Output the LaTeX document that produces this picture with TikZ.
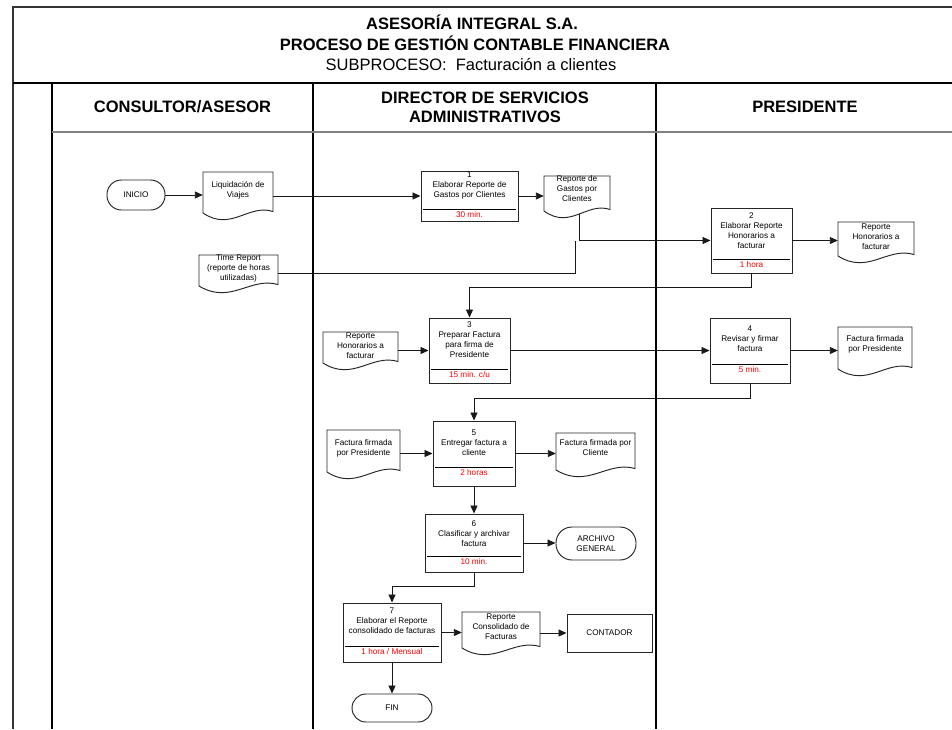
\documentclass[tikz,border=0pt]{standalone}
\usepackage{fontspec}
\setmainfont{Liberation Sans}
\usetikzlibrary{fit,arrows.meta}

\definecolor{timered}{RGB}{255,0,0}
\definecolor{hdrgray}{RGB}{130,130,130}

\tikzset{
  bodyfont/.style={font=\fontsize{8.2}{10}\selectfont},
  frameline/.style={line width=1.5pt, black!80},
  laneline/.style={line width=1.4pt, black},
  hdrline/.style={line width=1.2pt, hdrgray},
  procframe/.style={draw, line width=0.95pt, black!85, inner sep=0pt},
  proctext/.style={bodyfont, align=center, inner sep=0pt},
  timetext/.style={bodyfont, text=timered, inner sep=0pt},
  ruleline/.style={line width=0.8pt, black},
  docline/.style={line width=0.95pt, black!85},
  doctext/.style={bodyfont, align=center, inner sep=0pt},
  term/.style={draw, line width=0.95pt, black!85, inner sep=0pt, rounded corners=14.5pt},
  plainbox/.style={draw, line width=0.95pt, black!85, inner sep=0pt},
  link/.style={line width=0.9pt, black!90},
  arr/.style={link, -{Triangle[length=8pt,width=7pt]}},
  titlefont/.style={font=\fontsize{16.5}{19}\selectfont\bfseries, inner sep=0pt},
  subfont/.style={font=\fontsize{16.5}{19}\selectfont, inner sep=0pt},
  lanefont/.style={font=\fontsize{16.5}{19}\selectfont\bfseries, align=center, inner sep=0pt},
}

% process step: name, x0, y0, x1, y1, rule y, number-line y, text, time
\newcommand\procbox[9]{%
  \node[procframe, fit={(#2,#3)(#4,#5)}] (#1) {};
  \node[proctext, anchor=north] at ({(#2+#4)/2},{#7-3.5}) {#8};
  \draw[ruleline] ({#2+2},#6) -- ({#4-2},#6);
  \node[timetext] at ({(#2+#4)/2},{#6+6}) {#9};
}

% document symbol with wavy lower edge:
% name, x0, y0, x1, flat bottom y, text centre y, text
\newcommand\docshape[7]{%
  \node[inner sep=0pt, fit={(#2,#3)(#4,#5)}] (#1) {};
  \node[doctext] at ({(#2+#4)/2},#6) {#7};
  \draw[docline] (#2,#5) -- (#2,#3) -- (#4,#3) -- (#4,{#5-1.5})
    .. controls ({#2+0.65*(#4-#2)},{#5-9.5}) and ({#2+0.4*(#4-#2)},{#5+19}) .. (#2,#5) -- cycle;
}

\begin{document}
\begin{tikzpicture}[x=1pt, y=-1pt]
\useasboundingbox[fill=white] (0,0) rectangle (952,729);

% ---- frame and swimlanes ----
\draw[frameline] (13,729) -- (13,7) -- (952,7);
\draw[line width=2pt, black] (13,83) -- (952,83);
\draw[laneline] (52,83) -- (52,729);
\draw[laneline] (313,83) -- (313,729);
\draw[laneline] (656,83) -- (656,729);
\draw[hdrline] (52,132) -- (952,132);

% ---- title block ----
\node[titlefont] (title1) at (472,22) {ASESORÍA INTEGRAL S.A.};
\node[titlefont] (title2) at (475,43) {PROCESO DE GESTIÓN CONTABLE FINANCIERA};
\node[subfont] (title3) at (471,65) {SUBPROCESO:\ \ Facturación a clientes};

% ---- lane headings ----
\node[lanefont] (lane1) at (182.5,107) {CONSULTOR/ASESOR};
\node[lanefont] (lane2) at (485,107.5) {DIRECTOR DE SERVICIOS\\ADMINISTRATIVOS};
\node[lanefont] (lane3) at (805,107) {PRESIDENTE};

% ---- terminators ----
\node[term, fit={(107,180)(165,210)}, label={[bodyfont]center:INICIO}] (inicio) {};
\node[term, rounded corners=16pt, fit={(556,527)(636,560)}, label={[bodyfont,align=center]center:ARCHIVO\\GENERAL}] (archivo) {};
\node[term, rounded corners=14pt, fit={(352,694)(432,722)}, label={[bodyfont]center:FIN}] (fin) {};
\node[plainbox, fit={(567,614)(652,652)}, label={[bodyfont]center:CONTADOR}] (contador) {};

% ---- documents ----
\docshape{liq}{203}{172}{273}{213}{190}{Liquidación de\\Viajes}
\docshape{rgc}{544}{176}{610}{211}{189}{Reporte de\\Gastos por\\Clientes}
\docshape{rhfa}{838}{222}{914}{256}{236.5}{Reporte\\Honorarios a\\facturar}
\docshape{tr}{199}{255}{278}{286}{268.5}{Time Report\\(reporte de horas\\utilizadas)}
\docshape{rhfb}{323}{332}{398}{363}{345.5}{Reporte\\Honorarios a\\facturar}
\docshape{ffpa}{838}{327}{912}{369}{344}{Factura firmada\\por Presidente}
\docshape{ffpb}{327}{430}{400}{472}{448}{Factura firmada\\por Presidente}
\docshape{ffc}{556}{433}{635}{470}{448}{Factura firmada por\\Cliente}
\docshape{rcf}{462}{612}{540}{648}{627}{Reporte\\Consolidado de\\Facturas}

% ---- process steps ----
\procbox{p1}{421}{171}{518}{221}{209}{175.5}{1\\Elaborar Reporte de\\Gastos por Clientes}{30 min.}
\procbox{p2}{711}{208}{792}{273}{259}{216}{2\\Elaborar Reporte\\Honorarios a\\facturar}{1 hora}
\procbox{p3}{429}{318}{510}{383}{369}{325}{3\\Preparar Factura\\para firma de\\Presidente}{15 min. c/u}
\procbox{p4}{710}{318}{790}{383}{364}{329}{4\\Revisar y firmar\\factura}{5 min.}
\procbox{p5}{433}{421}{515}{486}{467}{433}{5\\Entregar factura a\\cliente}{2 horas}
\procbox{p6}{425}{514}{523}{572}{556}{524}{6\\Clasificar y archivar\\factura}{10 min.}
\procbox{p7}{343}{603}{441}{662}{646}{611}{7\\Elaborar el Reporte\\consolidado de facturas}{1 hora / Mensual}

% ---- connectors ----
\coordinate (trjoin) at (575,273);
\draw[arr] (inicio.east) -- (inicio.east -| liq.west);
\draw[arr] (liq.east |- p1.west) -- (p1.west);
\draw[arr] (p1.east) -- (p1.east -| rgc.west);
\draw[arr] ([xshift=2pt,yshift=-3pt]rgc.south) -- ([xshift=2pt]rgc.south |- p2.west) -- (p2.west);
\draw[link] (tr.east |- trjoin) -- (trjoin) -- (trjoin |- p2.west);
\draw[arr] (p2.east) -- (p2.east -| rhfa.west);
\draw[arr] (p2.south) -- ++(0,14) -| (p3.north);
\draw[arr] (rhfb.east |- p3.west) -- (p3.west);
\draw[arr] (p3.east) -- (p3.east -| p4.west);
\draw[arr] (p4.east) -- (p4.east -| ffpa.west);
\draw[arr] (p4.south) -- ++(0,15) -| (p5.north);
\draw[arr] (ffpb.east |- p5.west) -- (p5.west);
\draw[arr] (p5.east) -- (p5.east -| ffc.west);
\draw[arr] (p5.south) -- (p6.north);
\draw[arr] (p6.east) -- (p6.east -| archivo.west);
\draw[arr] (p6.south) -- ++(0,14) -| (p7.north);
\draw[arr] (p7.east) -- (p7.east -| rcf.west);
\draw[arr] (rcf.east |- contador.west) -- (contador.west);
\draw[arr] (p7.south) -- (fin.north);
\end{tikzpicture}
\end{document}
